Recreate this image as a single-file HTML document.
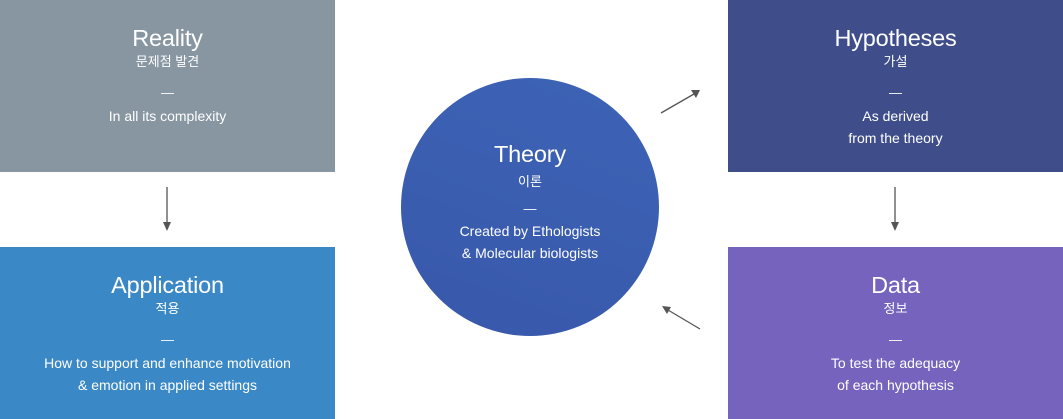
<!DOCTYPE html>
<html><head><meta charset="utf-8"><style>
body{margin:0;width:1063px;height:419px;background:#fff;position:relative;overflow:hidden;font-family:"Liberation Sans","Noto Sans CJK KR",sans-serif;color:#fff}
.b{position:absolute;width:335px;height:172px;text-align:center}
.t{font-size:23.5px;letter-spacing:-0.2px;line-height:26px}
.k{font-size:13px;line-height:18px;margin-top:2px}
.d{font-size:13px;line-height:14px;margin-top:15px}
.s{font-size:14px;line-height:22px;margin-top:5px;letter-spacing:0}
.c .k{margin-top:6px}
.c .d{margin-top:11px}
.c .s{margin-top:4px}
</style></head><body>
<div class="b" style="left:0;top:0;background:#8896a2"><div style="padding-top:25px"><div class="t">Reality</div><div class="k">문제점 발견</div><div class="d">—</div><div class="s">In all its complexity</div></div></div>
<div class="b" style="left:0;top:247px;background:#3a88c6"><div style="padding-top:25px"><div class="t">Application</div><div class="k">적용</div><div class="d">—</div><div class="s">How to support and enhance motivation<br>&amp; emotion in applied settings</div></div></div>
<div class="b" style="left:728px;top:0;background:#3f4e8b"><div style="padding-top:25px"><div class="t">Hypotheses</div><div class="k">가설</div><div class="d">—</div><div class="s">As derived<br>from the theory</div></div></div>
<div class="b" style="left:728px;top:247px;background:#7563bd"><div style="padding-top:25px"><div class="t">Data</div><div class="k">정보</div><div class="d">—</div><div class="s">To test the adequacy<br>of each hypothesis</div></div></div>
<div class="c" style="position:absolute;left:401px;top:78px;width:258px;height:258px;border-radius:50%;background:linear-gradient(200deg,#3d63b6,#3858aa);text-align:center"><div style="padding-top:63px"><div class="t">Theory</div><div class="k">이론</div><div class="d">—</div><div class="s">Created by Ethologists<br>&amp; Molecular biologists</div></div></div>
<svg width="1063" height="419" style="position:absolute;left:0;top:0">
<g stroke="#555" stroke-width="1.3" fill="#555">
<line x1="167" y1="187" x2="167" y2="224"/><polygon points="163,222 171,222 167,231" stroke="none"/>
<line x1="895" y1="187" x2="895" y2="224"/><polygon points="891,222 899,222 895,231" stroke="none"/>
<line x1="661" y1="113" x2="694" y2="94"/><polygon points="700,90 691,90 696,98" stroke="none"/>
<line x1="700" y1="329" x2="668" y2="310"/><polygon points="662,306 667,314 671,307" stroke="none"/>
</g></svg>
</body></html>
